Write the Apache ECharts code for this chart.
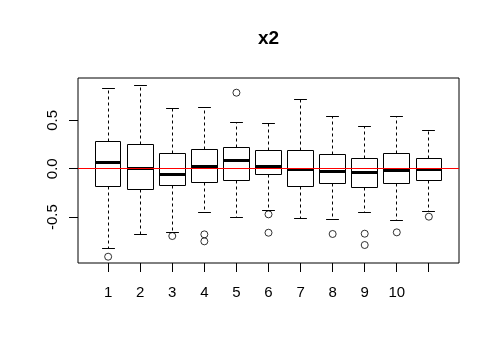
<!DOCTYPE html>
<html>
<head>
<meta charset="utf-8">
<script src="https://cdn.jsdelivr.net/npm/echarts@6/dist/echarts.min.js"></script>
<style>
html,body{margin:0;padding:0;background:#fff;}
#c{width:499px;height:362px;}
</style>
</head>
<body>
<div id="c"></div>
<script>
// Box positions and tick labels (11th box has no printed label)
const boxPositions = [1, 2, 3, 4, 5, 6, 7, 8, 9, 10, 11];
const tickLabels = ['1', '2', '3', '4', '5', '6', '7', '8', '9', '10', ''];
const yTickValues = [-0.5, 0, 0.5];
const xRange = [0.06, 11.94];
const yRange = [-0.975, 0.938];

// Box statistics per group
const lowerWhisker = [-0.823, -0.679, -0.662, -0.451, -0.503, -0.430, -0.517, -0.527, -0.451, -0.534, -0.445];
const q1Values     = [-0.179, -0.210, -0.169, -0.138, -0.127, -0.065, -0.186, -0.155, -0.193, -0.148, -0.127];
const medianValues = [ 0.069,  0.000, -0.055,  0.018,  0.083,  0.028, -0.007, -0.024, -0.038, -0.014, -0.007];
const q3Values     = [ 0.283,  0.248,  0.162,  0.197,  0.221,  0.193,  0.190,  0.149,  0.107,  0.155,  0.107];
const upperWhisker = [ 0.831,  0.862,  0.620,  0.631,  0.480,  0.465,  0.714,  0.538,  0.441,  0.545,  0.400];

// Outliers: group position and value
const outlierBox   = [1, 3, 4, 4, 5, 6, 6, 8, 9, 9, 10, 11];
const outlierValue = [-0.910, -0.696, -0.679, -0.751, 0.786, -0.472, -0.662, -0.675, -0.672, -0.789, -0.658, -0.496];

const boxData = boxPositions.map((p, i) => [p, lowerWhisker[i], q1Values[i], medianValues[i], q3Values[i], upperWhisker[i]]);
const outlierData = outlierBox.map((p, i) => [p, outlierValue[i]]);

const chart = echarts.init(document.getElementById('c'), null, {renderer: 'canvas'});

const crisp = v => Math.round(v - 0.5) + 0.5;
const TICK_LEN = 9;

function renderBox(params, api) {
  const x = api.value(0);
  const halfBox = api.size([0.4, 0])[0];
  const halfStaple = api.size([0.2, 0])[0];
  const pLow = api.coord([x, api.value(1)]);
  const pQ1 = api.coord([x, api.value(2)]);
  const pMed = api.coord([x, api.value(3)]);
  const pQ3 = api.coord([x, api.value(4)]);
  const pHigh = api.coord([x, api.value(5)]);
  const cx = crisp(pMed[0]);
  const yLow = crisp(pLow[1]), yQ1 = crisp(pQ1[1]), yMed = crisp(pMed[1]), yQ3 = crisp(pQ3[1]), yHigh = crisp(pHigh[1]);
  const xL = crisp(pMed[0] - halfBox), xR = crisp(pMed[0] + halfBox);
  const lineStyle = {stroke: '#000', lineWidth: 1};
  const dashStyle = {stroke: '#000', lineWidth: 1, lineDash: [3, 3]};
  const bottom = Math.round(api.coord([x, yRange[0]])[1]);
  const children = [
    {type: 'line', shape: {x1: cx, y1: bottom, x2: cx, y2: bottom + TICK_LEN}, style: lineStyle},
    {type: 'line', shape: {x1: cx, y1: yQ3, x2: cx, y2: yHigh}, style: dashStyle},
    {type: 'line', shape: {x1: cx, y1: yQ1, x2: cx, y2: yLow}, style: dashStyle},
    {type: 'line', shape: {x1: cx - halfStaple, y1: yHigh, x2: cx + halfStaple, y2: yHigh}, style: lineStyle},
    {type: 'line', shape: {x1: cx - halfStaple, y1: yLow, x2: cx + halfStaple, y2: yLow}, style: lineStyle},
    {type: 'rect', shape: {x: xL, y: yQ3, width: xR - xL, height: yQ1 - yQ3},
      style: {fill: 'none', stroke: '#000', lineWidth: 1}},
    {type: 'line', shape: {x1: xL, y1: yMed, x2: xR, y2: yMed},
      style: {stroke: '#000', lineWidth: 3}}
  ];
  if (params.dataIndex === 0) {
    const left = Math.round(api.coord([xRange[0], 0])[0]);
    yTickValues.forEach(v => {
      const ty = crisp(api.coord([x, v])[1]);
      children.push({type: 'line', shape: {x1: left - TICK_LEN, y1: ty, x2: left, y2: ty}, style: lineStyle});
    });
  }
  return {type: 'group', children};
}

const option = {
  animation: false,
  backgroundColor: '#fff',
  title: {
    text: 'x2',
    left: 268.5,
    textAlign: 'center',
    top: 29,
    padding: 0,
    textStyle: {fontFamily: 'Liberation Sans', fontSize: 19, fontWeight: 'bold', color: '#000'}
  },
  grid: {
    left: 78, right: 40, top: 78, bottom: 99,
    show: true, borderColor: '#000', borderWidth: 1
  },
  xAxis: {
    type: 'value',
    min: xRange[0], max: xRange[1],
    axisLine: {show: false, onZero: false},
    splitLine: {show: false},
    axisTick: {show: false},
    axisLabel: {
      show: true, margin: 22, customValues: boxPositions,
      formatter: v => tickLabels[boxPositions.indexOf(Math.round(v))] || '',
      fontFamily: 'Liberation Sans', fontSize: 15, color: '#000'
    }
  },
  yAxis: {
    type: 'value',
    min: yRange[0], max: yRange[1],
    axisLine: {show: false, onZero: false},
    splitLine: {show: false},
    axisTick: {show: false},
    axisLabel: {
      show: true, rotate: 90, margin: 18, customValues: yTickValues,
      formatter: v => v.toFixed(1),
      fontFamily: 'Liberation Sans', fontSize: 15, color: '#000'
    }
  },
  series: [
    {
      type: 'custom',
      renderItem: renderBox,
      data: boxData,
      encode: {x: 0, y: [1, 2, 3, 4, 5]},
      clip: false,
      silent: true,
      z: 2
    },
    {
      type: 'scatter',
      data: outlierData,
      symbol: 'circle',
      symbolSize: 7,
      itemStyle: {color: 'none', borderColor: '#000', borderWidth: 1},
      silent: true,
      z: 3,
      markLine: {
        silent: true,
        symbol: ['none', 'none'],
        label: {show: false},
        lineStyle: {color: '#ff0000', width: 1, type: 'solid'},
        data: [{yAxis: 0}],
        z: 5
      }
    }
  ]
};
chart.setOption(option);

// Backup tick drawing through the chart's own coordinate conversion
try {
  const tickEls = [];
  boxPositions.forEach(p => {
    const pt = chart.convertToPixel({gridIndex: 0}, [p, yRange[0]]);
    if (pt && isFinite(pt[0]) && isFinite(pt[1])) {
      const px = crisp(pt[0]);
      const by = Math.round(pt[1]);
      tickEls.push({type: 'line', silent: true, z: 100,
        shape: {x1: px, y1: by, x2: px, y2: by + TICK_LEN},
        style: {stroke: '#000', lineWidth: 1}});
    }
  });
  yTickValues.forEach(v => {
    const pt = chart.convertToPixel({gridIndex: 0}, [xRange[0], v]);
    if (pt && isFinite(pt[0]) && isFinite(pt[1])) {
      const py = crisp(pt[1]);
      const lx = Math.round(pt[0]);
      tickEls.push({type: 'line', silent: true, z: 100,
        shape: {x1: lx - TICK_LEN, y1: py, x2: lx, y2: py},
        style: {stroke: '#000', lineWidth: 1}});
    }
  });
  chart.setOption({graphic: {elements: tickEls}});
} catch (e) { console.error(e); }
</script>
</body>
</html>
